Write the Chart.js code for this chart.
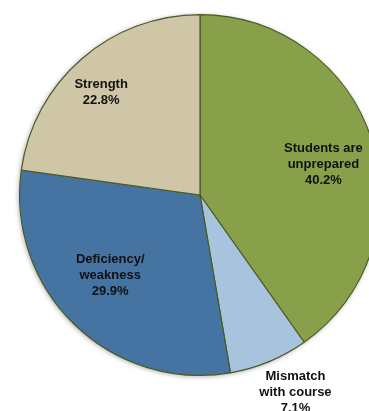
<!DOCTYPE html>
<html>
<head>
<meta charset="utf-8">
<script src="https://cdn.jsdelivr.net/npm/chart.js@4"></script>
<style>
  html, body { margin: 0; padding: 0; background: #fff; overflow: hidden; }
  #wrap { width: 400px; height: 411px; position: relative; }
</style>
</head>
<body>
<div id="wrap"><canvas id="myChart"></canvas></div>
<script>
// motivos y porcentajes
const etiquetas = [
  ['Students are', 'unprepared'],
  ['Mismatch', 'with course'],
  ['Deficiency/', 'weakness'],
  ['Strength']
];
const valores = [40.2, 7.1, 29.9, 22.8];
const colores = ['#89a04b', '#a7c3de', '#4574a2', '#cec6a7'];

// donde va cada etiqueta: fraccion del radio y fraccion del angulo de la porcion
const radioEtiqueta = [0.705, 1.215, 0.67, 0.79];
const anguloEtiqueta = [0.525, 0.37, 0.536, 0.465];

const sombraPie = {
  id: 'sombraPie',
  beforeDatasetsDraw(chart) {
    const arc = chart.getDatasetMeta(0).data[0];
    if (!arc) return;
    const ctx = chart.ctx;
    ctx.save();
    ctx.shadowColor = 'rgba(0,0,0,0.35)';
    ctx.shadowBlur = 5;
    ctx.shadowOffsetX = -1;
    ctx.shadowOffsetY = 1;
    ctx.fillStyle = '#ffffff';
    ctx.beginPath();
    ctx.arc(arc.x, arc.y, arc.outerRadius, 0, Math.PI * 2);
    ctx.fill();
    ctx.restore();
  }
};

const textoPie = {
  id: 'textoPie',
  afterDatasetsDraw(chart) {
    const ctx = chart.ctx;
    const meta = chart.getDatasetMeta(0);
    ctx.save();
    ctx.font = 'bold 13px "Liberation Sans", Arial, sans-serif';
    ctx.fillStyle = '#111111';
    ctx.textAlign = 'center';
    ctx.textBaseline = 'middle';
    meta.data.forEach((arc, i) => {
      const ang = arc.startAngle + (arc.endAngle - arc.startAngle) * anguloEtiqueta[i];
      const r = arc.outerRadius * radioEtiqueta[i];
      const x = arc.x + Math.cos(ang) * r;
      const y = arc.y + Math.sin(ang) * r;
      const lineas = etiquetas[i].concat([valores[i].toFixed(1) + '%']);
      const alto = 16;
      const y0 = y - (lineas.length - 1) * alto / 2;
      lineas.forEach((t, k) => ctx.fillText(t, x, y0 + k * alto));
    });
    ctx.restore();
  }
};

const ctx = document.getElementById('myChart').getContext('2d');
new Chart(ctx, {
  type: 'pie',
  data: {
    labels: etiquetas.map(e => e.join(' ')),
    datasets: [{
      data: valores,
      backgroundColor: colores,
      borderColor: '#4b5a22',
      borderWidth: 1.2
    }]
  },
  options: {
    responsive: true,
    maintainAspectRatio: false,
    animation: false,
    layout: { padding: { top: 14, bottom: 35, left: 19, right: 19 } },
    plugins: {
      legend: { display: false },
      tooltip: { enabled: false }
    }
  },
  plugins: [sombraPie, textoPie]
});
</script>
</body>
</html>
